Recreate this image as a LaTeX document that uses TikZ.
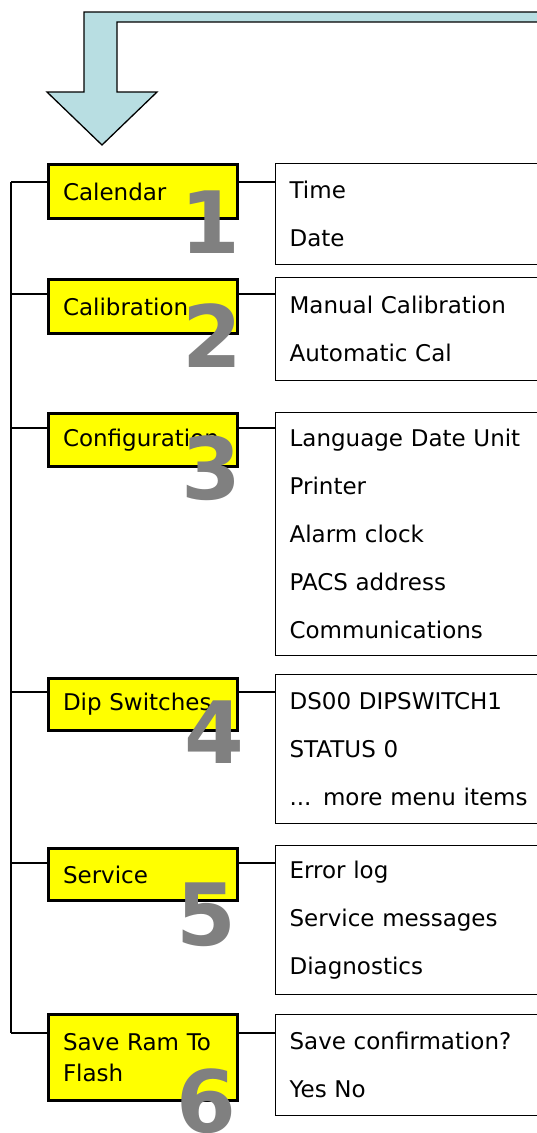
\documentclass[tikz,border=0pt]{standalone}
\usepackage{fontspec}
\setmainfont{DejaVu Sans}
\usepackage{tikz}
\usetikzlibrary{positioning}
\usepackage{xcolor}
\definecolor{arrowblue}{RGB}{184,222,226}
\definecolor{numgray}{RGB}{128,128,128}
\definecolor{menuyellow}{RGB}{255,255,0}

\begin{document}
\begin{tikzpicture}[
  x=1pt,y=-1pt,
  menustyle/.style={
    draw,line width=3pt,fill=menuyellow,
    minimum width=189pt,minimum height=#1,
    text width=160pt,align=left,inner xsep=14.5pt,
    font=\fontsize{23}{31}\selectfont,
    },
  itemstyle/.style={
    draw,line width=1.2pt,anchor=north west,
    minimum height=#1,
    text width=300pt,align=left,inner xsep=14pt,
    font=\fontsize{23}{48}\selectfont,
    },
  numstyle/.style={
    anchor=base,inner sep=0pt,text=numgray,
    font=\fontsize{86}{86}\selectfont\bfseries,
    },
  linkstyle/.style={line width=1.2pt},
  ]
  \useasboundingbox (0,0) rectangle (537,1133);
  \clip (0,0) rectangle (537,1133);

  % arrow coming in from the top right
  \draw[line width=1.3pt,fill=arrowblue]
    (545,12) -- (84,12) -- (84,92) -- (47,92) -- (102,145)
    -- (157,92) -- (117,92) -- (117,22) -- (545,22) -- cycle;

  \coordinate (trunktop) at (11,182);
  \coordinate (trunkbot) at (11,1033);
  \draw[linkstyle]
    (trunktop) -- (trunkbot);

  \node[menustyle=54pt] (1menu) at (143,191.5) {Calendar};
  \node[menustyle=54pt] (2menu) at (143,306.5) {Calibration};
  \node[menustyle=53pt] (3menu) at (143,440) {Configuration};
  \node[menustyle=52pt] (4menu) at (143,704.5) {Dip Switches};
  \node[menustyle=52pt] (5menu) at (143,874.5) {Service};
  \node[menustyle=86pt] (6menu) at (143,1057.5) {Save Ram To\\Flash};

  \node[itemstyle=101pt] (1items) at (275,163) {Time\\Date};
  \node[itemstyle=103pt] (2items) at (275,277)
    {Manual Calibration\\Automatic Cal};
  \node[itemstyle=243pt] (3items) at (275,412)
    {Language Date Unit\\Printer\\Alarm clock\\PACS address\\Communications};
  \node[itemstyle=149pt] (4items) at (275,674)
    {DS00 DIPSWITCH1\\STATUS 0\\... more menu items};
  \node[itemstyle=149pt] (5items) at (275,845)
    {Error log\\Service messages\\Diagnostics};
  \node[itemstyle=101pt] (6items) at (275,1014)
    {Save confirmation?\\Yes No};

  \foreach \i/\y in {1/182,2/294,3/428,4/692,5/863,6/1033}{
    \draw[linkstyle]
      (trunktop |- 0,\y) -- (\i menu.west |- 0,\y);
    \draw[linkstyle]
      (\i menu.east |- 0,\y) -- (\i items.west |- 0,\y);
  }

  % big grey step numbers
  \node[numstyle] (1num) at (210,253) {1};
  \node[numstyle] (2num) at (212,367) {2};
  \node[numstyle] (3num) at (211,499) {3};
  \node[numstyle] (4num) at (214,763) {4};
  \node[numstyle] (5num) at (206,945) {5};
  \node[numstyle] (6num) at (206,1132) {6};
\end{tikzpicture}
\end{document}
